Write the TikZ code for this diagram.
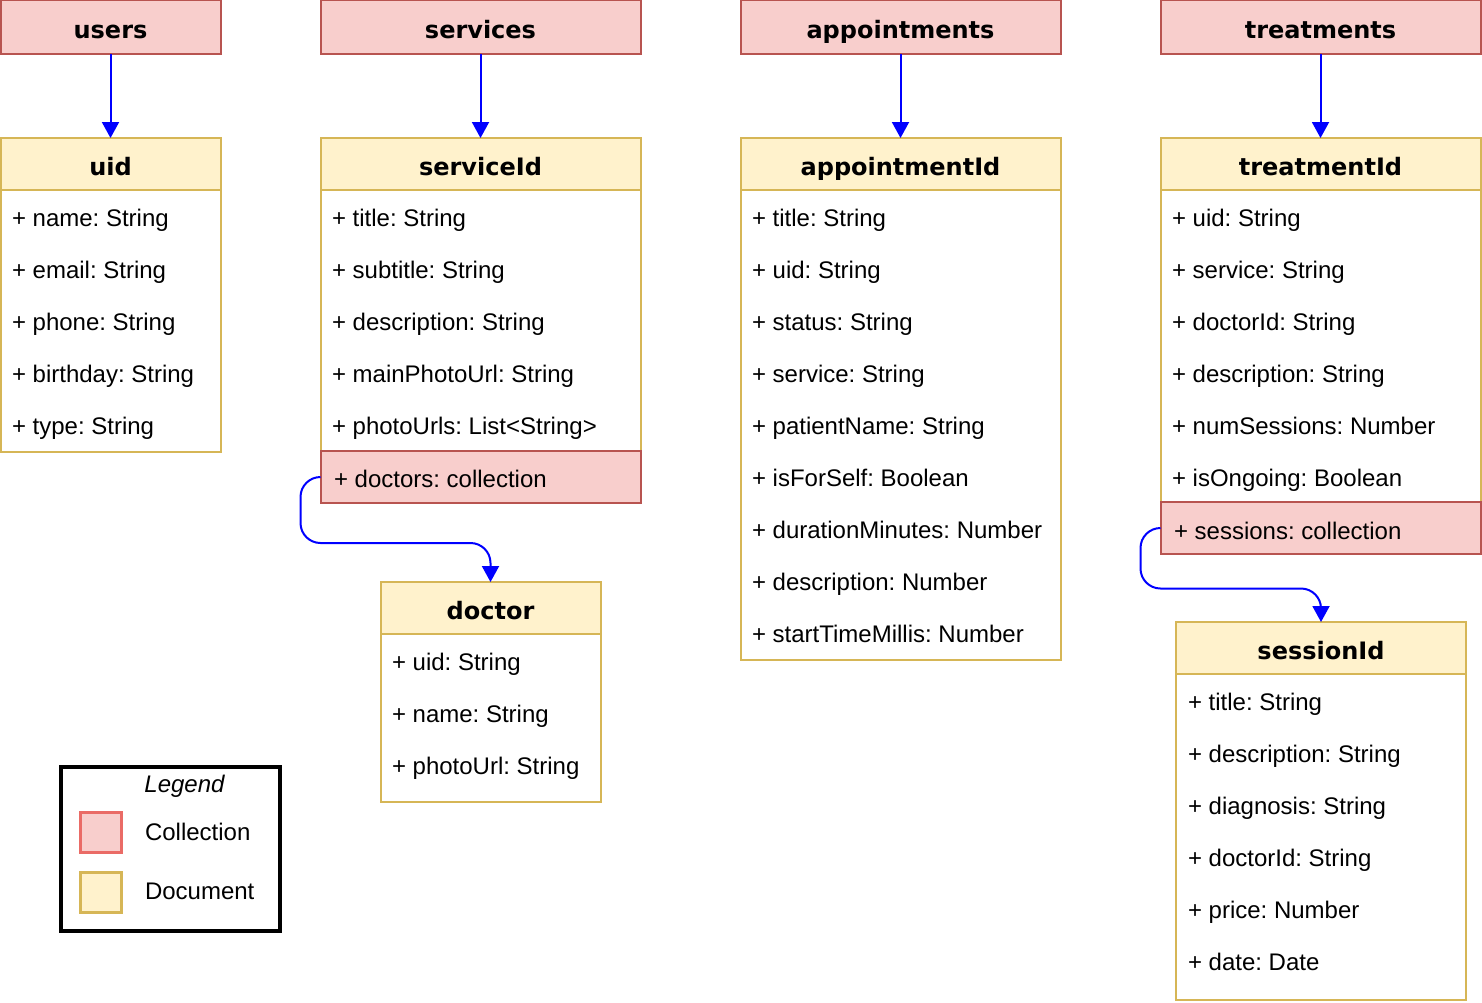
\documentclass[tikz,border=0pt]{standalone}
\usepackage{fontspec}
\setmainfont{Liberation Sans}
\newfontfamily\headfont{DejaVu Sans}
\usetikzlibrary{arrows.meta, positioning}
\definecolor{COLL_FILL}{HTML}{F8CECC}
\definecolor{COLL_LINE}{HTML}{B85450}
\definecolor{DOC_FILL}{HTML}{FFF2CC}
\definecolor{DOC_LINE}{HTML}{D6B656}
\definecolor{KEY_RED}{HTML}{EA6B66}
\definecolor{LINK_BLUE}{HTML}{0000FF}
\newcommand{\fieldfont}{\fontsize{12}{14}\selectfont}
\newcommand{\boxtitlefont}{\headfont\bfseries\fontsize{12}{14}\selectfont}
\frenchspacing

\begin{document}
\begin{tikzpicture}[x=0.5pt, y=-0.5pt,
    every node/.style={inner sep=0pt, outer sep=0pt},
    coll/.style={draw=COLL_LINE, fill=COLL_FILL, line width=1pt, minimum height=27pt,
      text height=11pt, text depth=0pt, font=\boxtitlefont},
    dochead/.style={draw=DOC_LINE, fill=DOC_FILL, line width=1pt, minimum height=26pt,
      text height=11.5pt, text depth=0pt, font=\boxtitlefont},
    docbody/.style={draw=DOC_LINE, fill=white, line width=1pt},
    subcoll/.style={draw=COLL_LINE, fill=COLL_FILL, line width=1pt, minimum height=26pt},
    field/.style={anchor=base west, font=\fieldfont},
    link/.style={draw=LINK_BLUE, line width=1pt, rounded corners=10pt,
      -{Triangle[width=8.5pt, length=8pt]}}]
  \useasboundingbox (0,0) rectangle (1482,1002);

  % Collections
  \node[coll, minimum width=110pt] (users) at (110.5,27) {users};
  \node[coll, minimum width=160pt] (services) at (480.5,27) {services};
  \node[coll, minimum width=160pt] (appointments) at (900.5,27) {appointments};
  \node[coll, minimum width=160pt] (treatments) at (1320.5,27) {treatments};

  % Documents
  \node[dochead, minimum width=110pt, below=42pt of users] (uid) {uid};
  \node[docbody, minimum width=110pt, minimum height=131pt, below=0pt of uid] (uid-body) {};
  \foreach \t [count=\i] in {name: String, email: String, phone: String, birthday: String, type: String}
    \node[field] (uid-\i) at (12, 174+52*\i) {+ \t};

  \node[dochead, minimum width=160pt, below=42pt of services] (serviceId) {serviceId};
  \node[docbody, minimum width=160pt, minimum height=130.5pt, below=0pt of serviceId] (serviceId-body) {};
  \foreach \t [count=\i] in {title: String, subtitle: String, description: String, mainPhotoUrl: String, photoUrls: List<String>}
    \node[field] (serviceId-\i) at (332, 174+52*\i) {+ \t};
  \node[subcoll, minimum width=160pt, below=0pt of serviceId-body] (doctors) {};
  \node[field] (doctors-text) at (334, 487) {+ doctors: collection};

  \node[dochead, minimum width=160pt, below=42pt of appointments] (appointmentId) {appointmentId};
  \node[docbody, minimum width=160pt, minimum height=235pt, below=0pt of appointmentId] (appointmentId-body) {};
  \foreach \t [count=\i] in {title: String, uid: String, status: String, service: String, patientName: String,
      isForSelf: Boolean, durationMinutes: Number, description: Number, startTimeMillis: Number}
    \node[field] (appointmentId-\i) at (752, 174+52*\i) {+ \t};

  \node[dochead, minimum width=160pt, below=42pt of treatments] (treatmentId) {treatmentId};
  \node[docbody, minimum width=160pt, minimum height=156pt, below=0pt of treatmentId] (treatmentId-body) {};
  \foreach \t [count=\i] in {uid: String, service: String, doctorId: String, description: String,
      numSessions: Number, isOngoing: Boolean}
    \node[field] (treatmentId-\i) at (1172, 174+52*\i) {+ \t};
  \node[subcoll, minimum width=160pt, below=0pt of treatmentId-body] (sessions) {};
  \node[field] (sessions-text) at (1174, 539) {+ sessions: collection};

  % Sub-collection documents
  \node[dochead, minimum width=110pt] (doctor) at (490.5,608) {doctor};
  \node[docbody, minimum width=110pt, minimum height=84pt, below=0pt of doctor] (doctor-body) {};
  \foreach \t [count=\i] in {uid: String, name: String, photoUrl: String}
    \node[field] (doctor-\i) at (392, 618+52*\i) {+ \t};

  \node[dochead, minimum width=145pt] (sessionId) at (1321,648) {sessionId};
  \node[docbody, minimum width=145pt, minimum height=163pt, below=0pt of sessionId] (sessionId-body) {};
  \foreach \t [count=\i] in {title: String, description: String, diagnosis: String, doctorId: String,
      price: Number, date: Date}
    \node[field] (sessionId-\i) at (1188, 658+52*\i) {+ \t};

  % Links
  \draw[link] (users) -- (uid);
  \draw[link] (services) -- (serviceId);
  \draw[link] (appointments) -- (appointmentId);
  \draw[link] (treatments) -- (treatmentId);
  \draw[link] (doctors.west) -- ++(-20,0) |- ([yshift=19.5pt]doctor.north) -- (doctor.north);
  \draw[link] (sessions.west) -- ++(-20,0) |- ([yshift=16.75pt]sessionId.north) -- (sessionId.north);

  % Legend
  \node[draw, line width=2pt, minimum width=109.7pt, minimum height=81.8pt] (legend) at (170.7,848.8) {};
  \node[anchor=base, font=\fieldfont\itshape] (legend-title) at (184.5,792) {Legend};
  \node[draw=KEY_RED, fill=COLL_FILL, line width=1.5pt, minimum size=20.2pt] (key-coll) at (101,832.7) {};
  \node[field] (key-coll-text) at (145,840) {Collection};
  \node[draw=DOC_LINE, fill=DOC_FILL, line width=1.5pt, minimum size=20.2pt] (key-doc) at (101,892.7) {};
  \node[field] (key-doc-text) at (145,899) {Document};
\end{tikzpicture}
\end{document}
